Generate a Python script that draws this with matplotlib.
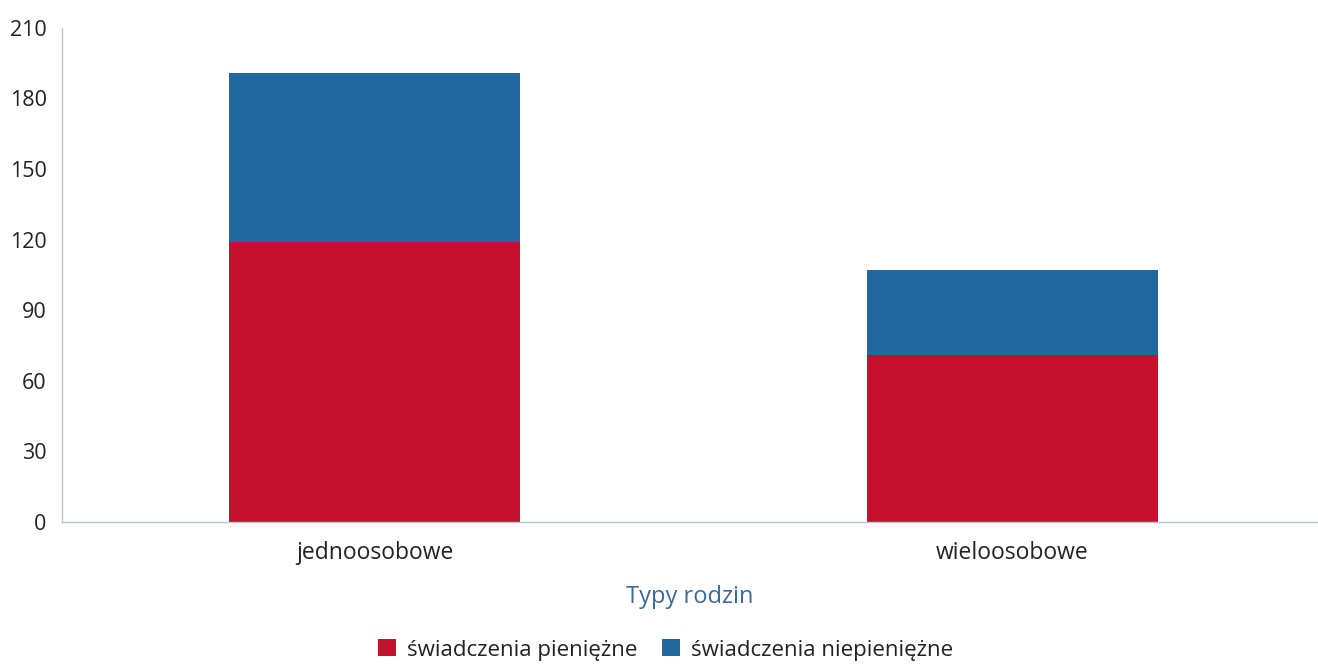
import matplotlib.pyplot as plt

plt.rcParams['font.family'] = ['Open Sans', 'DejaVu Sans']

categories = ['jednoosobowe', 'wieloosobowe']
pieniezne = [119, 71]
niepieniezne = [72, 36]
yticks = [0, 30, 60, 90, 120, 150, 180, 210]

red = '#c5112f'
blue = '#23679f'

fig = plt.figure(figsize=(13.18, 6.64), dpi=100)
ax = fig.add_axes([0.047, 0.214, 0.953, 0.744])

x = range(len(categories))
ax.bar(x, pieniezne, width=0.455, color=red, label='świadczenia pieniężne')
ax.bar(x, niepieniezne, width=0.455, bottom=pieniezne, color=blue,
       label='świadczenia niepieniężne')

ax.set_xlim(-0.49, 1.479)
ax.set_ylim(0, 210)
ax.set_yticks(yticks)
ax.set_xticks(list(x))
ax.set_xticklabels(categories)
ax.tick_params(axis='y', length=0, labelsize=15.5, colors='#222222', pad=11)
ax.tick_params(axis='x', length=0, labelsize=16.5, colors='#222222', pad=14)

for s in ['top', 'right']:
    ax.spines[s].set_visible(False)
for s in ['left', 'bottom']:
    ax.spines[s].set_color('#b8c6d0')
    ax.spines[s].set_linewidth(1)

ax.set_xlabel('Typy rodzin', fontsize=17, color='#3b6c98', labelpad=14)

leg = fig.legend(loc='lower center', bbox_to_anchor=(0.505, -0.025), ncol=2,
                 frameon=False, fontsize=16, handlelength=0.8,
                 handleheight=0.8, handletextpad=0.5, columnspacing=1.1)
for t in leg.get_texts():
    t.set_color('#222222')

fig.savefig('out.png', dpi=100)
